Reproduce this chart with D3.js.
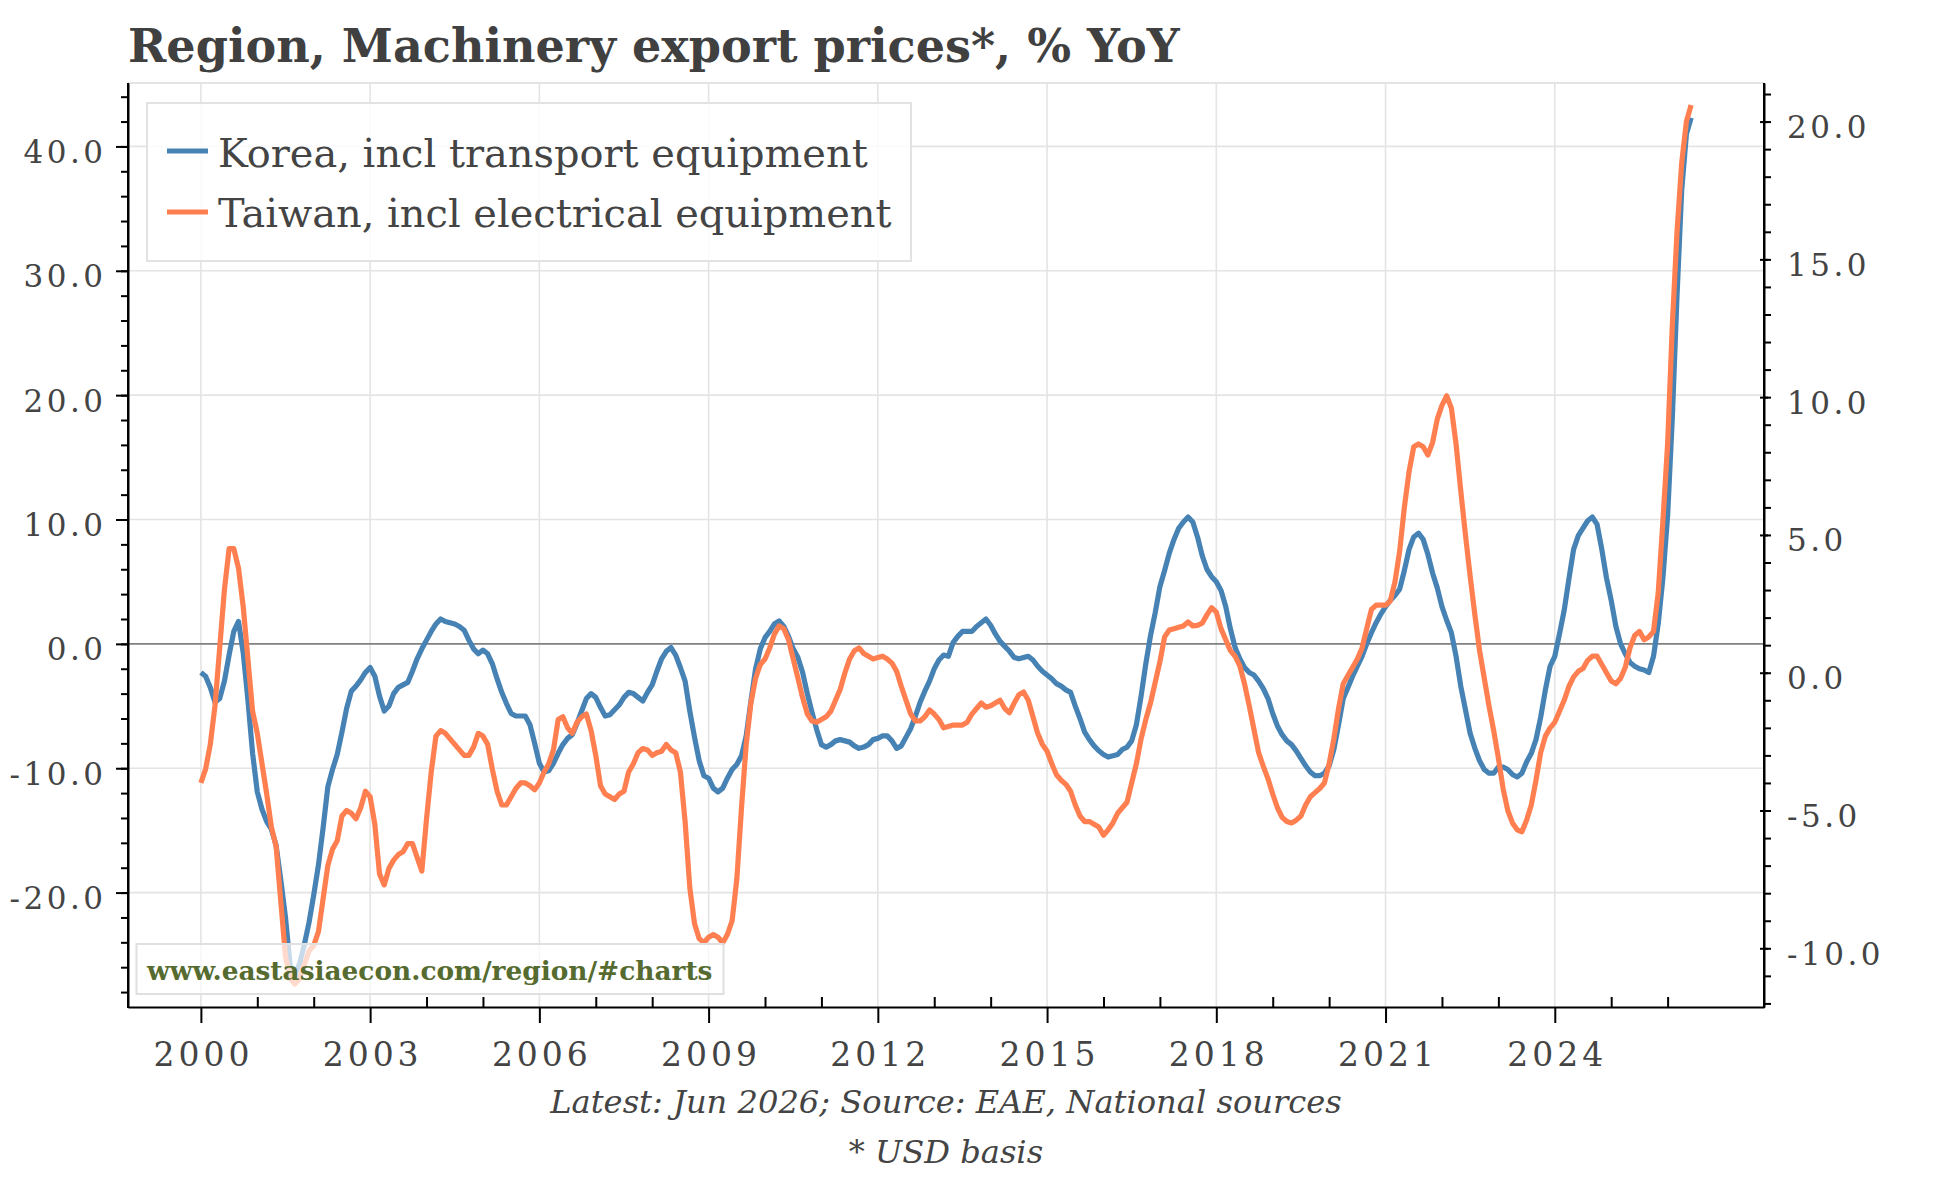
<!DOCTYPE html>
<html>
<head>
<meta charset="utf-8">
<script src="https://cdn.jsdelivr.net/npm/d3@7"></script>
<style>
  html, body { margin: 0; padding: 0; background: #ffffff; }
  svg { display: block; }
</style>
</head>
<body>
<svg id="chart" width="1944" height="1178"></svg>
<script>
// ---------------- DATA ----------------
const startYear = 2000;          // first observation: Jan 2000, monthly
const koreaYoY = [
  -2.3, -2.6, -3.5, -4.7, -4.4, -3.0, -0.9, 1.0, 1.8, -0.7, -4.5, -8.8,          // 2000
  -11.9, -13.3, -14.3, -14.9, -16.2, -19.0, -22.0, -25.9, -26.6, -25.7, -24.2, -22.4, // 2001
  -20.2, -17.8, -14.8, -11.5, -10.1, -8.9, -7.1, -5.2, -3.8, -3.4, -2.9, -2.3,   // 2002
  -1.9, -2.6, -4.2, -5.4, -5.0, -4.0, -3.5, -3.3, -3.1, -2.2, -1.2, -0.4,        // 2003
  0.3, 1.0, 1.6, 2.0, 1.8, 1.7, 1.6, 1.4, 1.1, 0.3, -0.4, -0.8,                  // 2004
  -0.5, -0.8, -1.6, -2.8, -3.9, -4.8, -5.6, -5.8, -5.8, -5.8, -6.5, -8.0,        // 2005
  -9.6, -10.3, -10.2, -9.6, -8.8, -8.1, -7.6, -7.3, -6.4, -5.4, -4.4, -4.0,      // 2006
  -4.3, -5.1, -5.8, -5.7, -5.3, -4.9, -4.3, -3.9, -4.0, -4.3, -4.6, -3.9,        // 2007
  -3.3, -2.2, -1.2, -0.6, -0.3, -0.9, -1.9, -3.0, -5.4, -7.5, -9.4, -10.6,       // 2008
  -10.8, -11.6, -11.9, -11.6, -10.8, -10.1, -9.7, -9.0, -7.4, -4.6, -2.0, -0.4,  // 2009
  0.5, 1.0, 1.6, 1.85, 1.4, 0.6, -0.4, -1.1, -2.3, -4.0, -5.5, -6.9,             // 2010
  -8.1, -8.3, -8.1, -7.8, -7.7, -7.8, -7.9, -8.2, -8.4, -8.3, -8.1, -7.7,        // 2011
  -7.6, -7.4, -7.4, -7.8, -8.4, -8.2, -7.5, -6.8, -5.8, -4.7, -3.8, -3.0,        // 2012
  -2.0, -1.3, -0.9, -1.0, 0.1, 0.6, 1.0, 1.0, 1.0, 1.4, 1.7, 2.0,                // 2013
  1.5, 0.8, 0.2, -0.2, -0.6, -1.1, -1.2, -1.1, -1.0, -1.3, -1.8, -2.2,           // 2014
  -2.5, -2.8, -3.2, -3.4, -3.7, -3.9, -5.0, -6.0, -7.1, -7.7, -8.2, -8.6,        // 2015
  -8.9, -9.1, -9.0, -8.9, -8.5, -8.3, -7.8, -6.5, -4.2, -1.6, 0.65, 2.5,         // 2016
  4.6, 5.9, 7.3, 8.4, 9.3, 9.8, 10.2, 9.8, 8.6, 7.1, 6.0, 5.4,                   // 2017
  5.0, 4.3, 3.0, 1.2, -0.3, -1.2, -1.9, -2.3, -2.5, -3.0, -3.6, -4.4,            // 2018
  -5.6, -6.6, -7.3, -7.8, -8.1, -8.6, -9.2, -9.8, -10.3, -10.6, -10.6, -10.4,    // 2019
  -9.8, -8.5, -6.5, -4.4, -3.5, -2.6, -1.8, -1.0, 0.0, 0.9, 1.7, 2.4,            // 2020
  3.0, 3.5, 3.9, 4.4, 5.9, 7.6, 8.6, 8.9, 8.4, 7.2, 5.7, 4.5,                    // 2021
  3.0, 1.9, 0.9, -1.0, -3.4, -5.3, -7.2, -8.4, -9.4, -10.1, -10.4, -10.4,        // 2022
  -9.9, -9.9, -10.1, -10.5, -10.7, -10.4, -9.5, -8.8, -7.7, -5.9, -3.7, -1.8,    // 2023
  -1.0, 0.8, 2.7, 5.2, 7.6, 8.7, 9.3, 9.9, 10.2, 9.6, 7.6, 5.3,                  // 2024
  3.5, 1.4, 0.0, -0.8, -1.5, -1.8, -2.0, -2.1, -2.3, -1.0, 1.6, 5.3,             // 2025
  10.3, 18.2, 28.0, 36.5, 41.0, 42.3                                             // 2026 (to Jun)
];
const taiwanYoY = [
  -4.0, -3.5, -2.6, -1.2, 0.9, 3.0, 4.5, 4.5, 3.8, 2.4, 0.5, -1.4,               // 2000
  -2.2, -3.3, -4.4, -5.6, -6.3, -8.3, -10.3, -11.1, -11.3, -11.1, -10.6, -10.1,  // 2001
  -9.9, -9.4, -8.2, -7.0, -6.4, -6.1, -5.2, -5.0, -5.1, -5.3, -4.9, -4.3,        // 2002
  -4.5, -5.5, -7.3, -7.7, -7.1, -6.8, -6.6, -6.5, -6.2, -6.2, -6.7, -7.2,        // 2003
  -5.3, -3.6, -2.3, -2.1, -2.2, -2.4, -2.6, -2.8, -3.0, -3.0, -2.7, -2.2,        // 2004
  -2.3, -2.6, -3.5, -4.3, -4.8, -4.8, -4.5, -4.2, -4.0, -4.0, -4.1, -4.25,       // 2005
  -4.0, -3.6, -3.3, -2.8, -1.7, -1.6, -2.0, -2.2, -1.8, -1.6, -1.5, -2.1,        // 2006
  -3.0, -4.1, -4.4, -4.5, -4.6, -4.4, -4.3, -3.6, -3.3, -2.9, -2.75, -2.8,       // 2007
  -3.0, -2.9, -2.85, -2.6, -2.8, -2.9, -3.6, -5.4, -7.8, -9.1, -9.65, -9.8,      // 2008
  -9.6, -9.5, -9.6, -9.8, -9.5, -9.0, -7.5, -4.9, -2.6, -1.1, -0.2, 0.3,         // 2009
  0.5, 0.9, 1.4, 1.7, 1.6, 1.2, 0.5, -0.2, -0.9, -1.5, -1.75, -1.8,              // 2010
  -1.7, -1.6, -1.4, -1.0, -0.6, 0.0, 0.5, 0.8, 0.9, 0.7, 0.6, 0.5,               // 2011
  0.55, 0.6, 0.5, 0.35, 0.05, -0.5, -1.0, -1.5, -1.75, -1.75, -1.6, -1.35,       // 2012
  -1.5, -1.7, -2.0, -1.95, -1.9, -1.9, -1.9, -1.8, -1.5, -1.3, -1.1, -1.25,      // 2013
  -1.2, -1.1, -1.0, -1.3, -1.45, -1.1, -0.8, -0.7, -1.0, -1.6, -2.2, -2.6,       // 2014
  -2.85, -3.3, -3.7, -3.9, -4.05, -4.3, -4.8, -5.2, -5.4, -5.4, -5.5, -5.6,      // 2015
  -5.9, -5.7, -5.45, -5.1, -4.9, -4.7, -4.0, -3.3, -2.4, -1.7, -1.1, -0.35,      // 2016
  0.4, 1.3, 1.55, 1.6, 1.65, 1.7, 1.84, 1.7, 1.72, 1.8, 2.1, 2.36,               // 2017
  2.2, 1.6, 1.2, 0.8, 0.6, 0.25, -0.4, -1.2, -2.05, -2.9, -3.4, -3.85,           // 2018
  -4.4, -4.9, -5.25, -5.4, -5.45, -5.35, -5.2, -4.8, -4.5, -4.35, -4.2, -4.0,    // 2019
  -3.3, -2.4, -1.3, -0.4, -0.1, 0.2, 0.5, 0.9, 1.6, 2.3, 2.45, 2.45,             // 2020
  2.45, 2.6, 3.3, 4.4, 6.0, 7.3, 8.2, 8.3, 8.2, 7.9, 8.35, 9.2,                  // 2021
  9.7, 10.05, 9.6, 8.3, 6.6, 5.0, 3.5, 2.1, 0.8, -0.2, -1.2, -2.1,               // 2022
  -3.1, -4.2, -5.0, -5.45, -5.7, -5.77, -5.35, -4.8, -3.9, -2.9, -2.3, -2.0,     // 2023
  -1.8, -1.4, -1.0, -0.5, -0.15, 0.05, 0.15, 0.45, 0.6, 0.6, 0.3, 0.0,           // 2024
  -0.3, -0.4, -0.2, 0.2, 0.9, 1.35, 1.5, 1.2, 1.3, 1.5, 2.9, 5.5,                // 2025
  8.3, 12.6, 16.0, 18.5, 20.0, 20.6                                              // 2026 (to Jun)
];
const seriesNames = ["Korea, incl transport equipment", "Taiwan, incl electrical equipment"];
const xTickYears = [2000, 2003, 2006, 2009, 2012, 2015, 2018, 2021, 2024];
const xMinorYears = [2001, 2002, 2004, 2005, 2007, 2008, 2010, 2011, 2013, 2014, 2016, 2017,
                     2019, 2020, 2022, 2023, 2025, 2026];
const leftTicks = [-20, -10, 0, 10, 20, 30, 40];
const rightTicks = [-10, -5, 0, 5, 10, 15, 20];
const titleText = "Region, Machinery export prices*, % YoY";
const footnote1 = "Latest: Jun 2026; Source: EAE, National sources";
const footnote2 = "* USD basis";
const watermarkText = "www.eastasiaecon.com/region/#charts";

// ---------------- LAYOUT / STYLE ----------------
const plot = { left: 128, right: 1764, top: 83, bottom: 1007 };
const colors = { korea: "#4682B4", taiwan: "#FF7F50", text: "#444444", grid: "#e4e4e4",
                 zero: "#808080", axis: "#000000", water: "#556B2F" };
const serif = "'DejaVu Serif', 'Liberation Serif', serif";
const tickFont = 31, tickSpacing = 3.5;
const lineWidth = 5.2;

const svg = d3.select("#chart");
const toYear = i => startYear + i / 12;
const lastYear = toYear(koreaYoY.length - 1);
const xPad = 1.292;

const x = d3.scaleLinear().domain([startYear - xPad, lastYear + xPad]).range([plot.left, plot.right]);
const yL = d3.scaleLinear().domain([-29.2, 45.1]).range([plot.bottom, plot.top]);
const yR = d3.scaleLinear().domain([-12.13, 21.4]).range([plot.bottom, plot.top]);

// grid
const grid = svg.append("g");
grid.selectAll("line.v").data(xTickYears).join("line")
  .attr("x1", d => x(d)).attr("x2", d => x(d))
  .attr("y1", plot.top).attr("y2", plot.bottom)
  .attr("stroke", colors.grid).attr("stroke-width", 1.6);
grid.selectAll("line.h").data(leftTicks.filter(d => d !== 0)).join("line")
  .attr("x1", plot.left).attr("x2", plot.right)
  .attr("y1", d => yL(d)).attr("y2", d => yL(d))
  .attr("stroke", colors.grid).attr("stroke-width", 1.6);
// top frame
svg.append("line").attr("x1", plot.left).attr("x2", plot.right)
  .attr("y1", plot.top).attr("y2", plot.top)
  .attr("stroke", colors.grid).attr("stroke-width", 2);
// zero line
svg.append("line").attr("x1", plot.left).attr("x2", plot.right)
  .attr("y1", yL(0)).attr("y2", yL(0))
  .attr("stroke", colors.zero).attr("stroke-width", 1.6);

// series
const lineK = d3.line().x((d, i) => x(toYear(i))).y(d => yL(d));
const lineT = d3.line().x((d, i) => x(toYear(i))).y(d => yR(d));
svg.append("path").datum(koreaYoY).attr("d", lineK)
  .attr("fill", "none").attr("stroke", colors.korea).attr("stroke-width", lineWidth)
  .attr("stroke-linejoin", "round");
svg.append("path").datum(taiwanYoY).attr("d", lineT)
  .attr("fill", "none").attr("stroke", colors.taiwan).attr("stroke-width", lineWidth)
  .attr("stroke-linejoin", "round");

// axes
const fmt = d => d.toFixed(1);
function styleAxis(g) {
  g.select(".domain").attr("stroke", colors.axis).attr("stroke-width", 2);
  g.selectAll(".tick line").attr("stroke", colors.axis).attr("stroke-width", 2);
  g.selectAll(".tick text").attr("fill", colors.text).attr("font-family", serif)
    .attr("font-size", tickFont).attr("letter-spacing", tickSpacing + "px");
}
// left
const leftMinor = d3.range(-28, 45, 2);
svg.append("g").attr("transform", `translate(${plot.left},0)`)
  .call(d3.axisLeft(yL).tickValues(leftMinor).tickSize(7).tickSizeOuter(0).tickFormat(""))
  .call(g => { g.select(".domain").remove(); g.selectAll(".tick line").attr("stroke", colors.axis).attr("stroke-width", 2); });
const axL = svg.append("g").attr("transform", `translate(${plot.left},0)`)
  .call(d3.axisLeft(yL).tickValues(leftTicks).tickSize(12).tickSizeOuter(0).tickPadding(9.5).tickFormat(fmt))
  .call(styleAxis);
axL.selectAll(".tick text").attr("dy", null).attr("y", 16);
// right
const rightMinor = d3.range(-12, 22, 1);
svg.append("g").attr("transform", `translate(${plot.right},0)`)
  .call(d3.axisRight(yR).tickValues(rightMinor).tickSize(7).tickSizeOuter(0).tickFormat(""))
  .call(g => { g.select(".domain").remove(); g.selectAll(".tick line").attr("stroke", colors.axis).attr("stroke-width", 2); });
const axR = svg.append("g").attr("transform", `translate(${plot.right},0)`)
  .call(d3.axisRight(yR).tickValues(rightTicks).tickSize(4).tickSizeOuter(0).tickPadding(19).tickFormat(fmt))
  .call(styleAxis);
axR.selectAll(".tick line").attr("x1", -4).attr("x2", 4);
axR.selectAll(".tick text").attr("dy", null).attr("y", 16);
// bottom
svg.append("g").attr("transform", `translate(0,${plot.bottom})`)
  .call(d3.axisBottom(x).tickValues(xMinorYears).tickSize(-10).tickSizeOuter(0).tickFormat(""))
  .call(g => { g.select(".domain").remove(); g.selectAll(".tick line").attr("stroke", colors.axis).attr("stroke-width", 2); });
const axB = svg.append("g").attr("transform", `translate(0,${plot.bottom})`)
  .call(d3.axisBottom(x).tickValues(xTickYears).tickSize(16).tickSizeOuter(0).tickFormat(d => String(d)))
  .call(styleAxis);
axB.selectAll(".tick text").attr("font-size", 33).attr("letter-spacing", "4px")
  .attr("dy", null).attr("y", 59).attr("dx", 2);
// left / right spines full height
svg.append("line").attr("x1", plot.left).attr("x2", plot.left).attr("y1", plot.top).attr("y2", plot.bottom + 1)
  .attr("stroke", colors.axis).attr("stroke-width", 2);
svg.append("line").attr("x1", plot.right).attr("x2", plot.right).attr("y1", plot.top).attr("y2", plot.bottom + 1)
  .attr("stroke", colors.axis).attr("stroke-width", 2);

function fit(sel, target) {
  const w = sel.node().getComputedTextLength();
  const fs = parseFloat(sel.attr("font-size"));
  sel.attr("font-size", fs * target / w);
  return fs * target / w;
}

// legend
const leg = svg.append("g");
leg.append("rect").attr("x", 147).attr("y", 103).attr("width", 764).attr("height", 158)
  .attr("fill", "#ffffff").attr("fill-opacity", 0.85).attr("stroke", "#e2e2e2").attr("stroke-width", 2);
const legItems = [
  { name: seriesNames[0], color: colors.korea, ly: 151, ty: 166.5 },
  { name: seriesNames[1], color: colors.taiwan, ly: 212, ty: 227 }
];
leg.selectAll("line.leg").data(legItems).join("line")
  .attr("x1", 167).attr("x2", 208).attr("y1", d => d.ly).attr("y2", d => d.ly)
  .attr("stroke", d => d.color).attr("stroke-width", 5.2);
const legText = leg.selectAll("text.leg").data(legItems).join("text")
  .attr("x", 218).attr("y", d => d.ty).text(d => d.name)
  .attr("font-family", serif).attr("font-size", 40).attr("fill", colors.text);
const legFs = fit(d3.select(legText.nodes()[0]), 650);
legText.attr("font-size", legFs);

// watermark
svg.append("rect").attr("x", 136.5).attr("y", 944).attr("width", 587).attr("height", 50)
  .attr("fill", "#ffffff").attr("fill-opacity", 0.7).attr("stroke", "#e0e0e0").attr("stroke-width", 2);
const wm = svg.append("text").attr("x", 147).attr("y", 980).text(watermarkText)
  .attr("font-family", serif).attr("font-weight", "bold").attr("font-size", 26).attr("fill", colors.water);
fit(wm, 566);

// title
const title = svg.append("text").attr("x", 128).attr("y", 62).text(titleText)
  .attr("font-family", serif).attr("font-weight", "bold").attr("font-size", 46).attr("fill", "#404040");
fit(title, 1052);

// footnotes
const cx = (plot.left + plot.right) / 2;
const f1 = svg.append("text").attr("x", cx).attr("y", 1113).attr("text-anchor", "middle").text(footnote1)
  .attr("font-family", serif).attr("font-style", "italic").attr("font-size", 32).attr("fill", colors.text);
const ffs = fit(f1, 792);
svg.append("text").attr("x", cx).attr("y", 1163).attr("text-anchor", "middle").text(footnote2)
  .attr("font-family", serif).attr("font-style", "italic").attr("font-size", ffs).attr("fill", colors.text);
</script>
</body>
</html>
